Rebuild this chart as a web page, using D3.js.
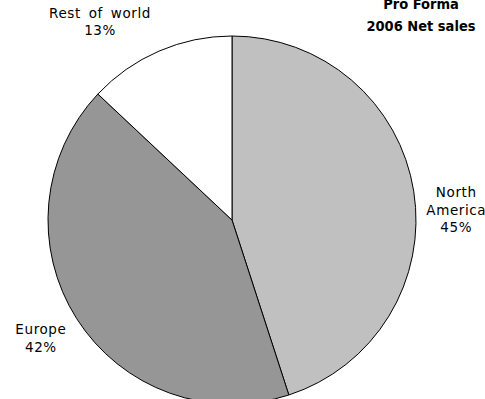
<!DOCTYPE html>
<html>
<head>
<meta charset="utf-8">
<script src="https://cdn.jsdelivr.net/npm/d3@7"></script>
<style>
  body { margin: 0; background: #fff; }
  svg { display: block; }
  text { font-family: "DejaVu Sans", Verdana, sans-serif; fill: #000; }
  .title { font-family: "DejaVu Sans Condensed", "DejaVu Sans", sans-serif; font-stretch: condensed; }
</style>
</head>
<body>
<svg id="chart"></svg>
<script>
// regions and their share of 2006 pro forma net sales (%)
const regions = ["North America", "Europe", "Rest of world"];
const shares = [45, 42, 13];
const labelLines = [["North", "America"], ["Europe"], ["Rest of world"]];
const titleLines = ["Pro Forma", "2006 Net sales"];

const width = 485, height = 399;
const cx = 232, cy = 220, radius = 184;

const svg = d3.select("#chart").attr("width", width).attr("height", height);

const color = d3.scaleOrdinal()
    .domain(regions)
    .range(["#c0c0c0", "#969696", "#ffffff"]);

const data = regions.map((r, i) => ({ region: r, value: shares[i], lines: labelLines[i] }));

const pie = d3.pie().sort(null).value(d => d.value).startAngle(0).endAngle(2 * Math.PI);
const arc = d3.arc().innerRadius(0).outerRadius(radius);
const labelArc = d3.arc().innerRadius(224).outerRadius(224);

const g = svg.append("g").attr("transform", `translate(${cx},${cy})`);

g.selectAll("path.slice")
    .data(pie(data))
    .enter()
    .append("path")
    .attr("class", "slice")
    .attr("d", arc)
    .attr("fill", d => color(d.data.region))
    .attr("stroke", "#000")
    .attr("stroke-width", 1);

// nudges so labels sit where the original placed them
const nudges = [[3, 25], [-2, -2], [-43, 7]];
const lineH = 17.5;

const labels = g.selectAll("text.label")
    .data(pie(data))
    .enter()
    .append("text")
    .attr("class", "label")
    .attr("text-anchor", "middle")
    .attr("font-size", "13.5px")
    .attr("letter-spacing", "0.6px")
    .attr("word-spacing", "3px")
    .attr("transform", (d, i) => {
        const c = labelArc.centroid(d);
        return `translate(${c[0] + nudges[i][0]},${c[1] + nudges[i][1]})`;
    });

labels.each(function (d) {
    const lines = d.data.lines.concat([d.data.value + "%"]);
    const t = d3.select(this);
    const y0 = -((lines.length - 1) * lineH) / 2 + 5;
    lines.forEach((l, k) => {
        t.append("tspan")
            .attr("x", 0)
            .attr("y", y0 + k * lineH)
            .text(l);
    });
});

// title, top right, partly cut off by the top edge
const title = svg.append("text")
    .attr("class", "title")
    .attr("text-anchor", "middle")
    .attr("font-size", "14.5px")
    .attr("font-weight", "bold");

titleLines.forEach((l, k) => {
    title.append("tspan")
        .attr("x", 421)
        .attr("y", 9 + k * 22)
        .text(l);
});
</script>
</body>
</html>
